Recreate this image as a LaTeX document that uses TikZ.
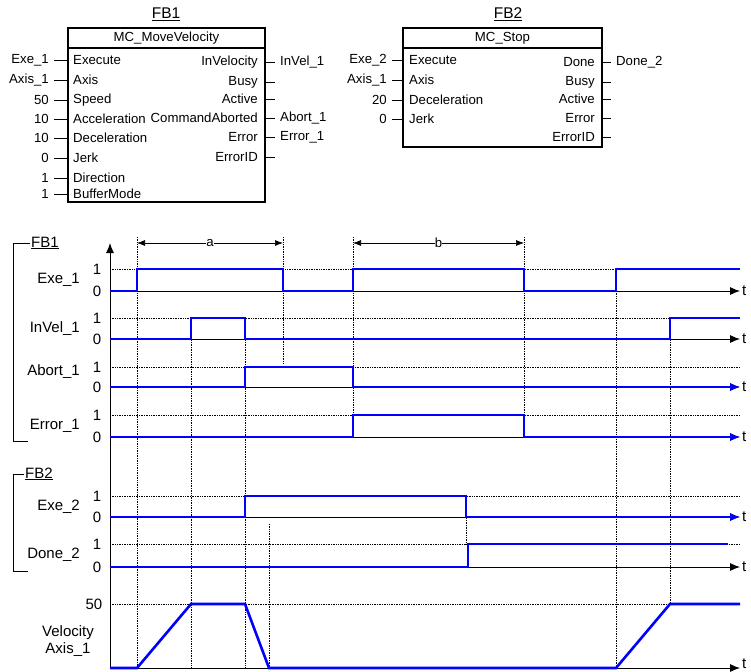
\documentclass[tikz,border=0pt]{standalone}
\usepackage{fontspec}
\setmainfont{Liberation Sans}
\usetikzlibrary{arrows.meta,positioning}

\begin{document}
\begin{tikzpicture}[
    x=1pt, y=-1pt,
    every node/.style={inner sep=1pt, font=\fontsize{13.2}{15}\selectfont},
    fbtitle/.style={font=\fontsize{15.5}{17}\selectfont},
    header/.style={draw, line width=1.2pt, minimum height=20pt, inner sep=0pt},
    block/.style={draw, line width=1.2pt},
    pinline/.style={line width=0.7pt},
    siglabel/.style={anchor=east, font=\fontsize{15}{17}\selectfont},
    lvl/.style={font=\fontsize{15}{17}\selectfont},
    sig/.style={blue, line width=2.6pt},
    sigend/.style={sig, -{Latex[length=10pt,width=8pt]}},
    gridline/.style={densely dotted, line width=0.7pt},
    axis/.style={line width=0.9pt, -{Latex[length=10pt,width=8pt]}},
    dim/.style={line width=0.7pt, {Latex[length=8pt,width=6pt]}-{Latex[length=8pt,width=6pt]}}
]
\useasboundingbox (0,0) rectangle (751,671);

% function block FB1
\node[fbtitle] (fb1) at (166,14) {\underline{FB1}};
\draw[block] (68,28) rectangle (265,202);
\node[header, minimum width=197pt] (mv) at (166.5,38) {MC\_MoveVelocity};
\foreach \y/\arg/\val [count=\i] in {60/Execute/Exe\_1, 80/Axis/Axis\_1, 100/Speed/50,
    119/Acceleration/10, 138/Deceleration/10, 158/Jerk/0, 178/Direction/1, 194/BufferMode/1}{
  \node[anchor=west] (mvin\i) at (72,\y) {\arg};
  \node[anchor=east] (mvval\i) at (50,\y) {\val};
  \coordinate (mvp\i) at (68,\y);
  \draw[pinline] ([xshift=4pt]mvval\i.east) -- (mvp\i);
}
\foreach \y/\arg/\val [count=\i] in {62/InVelocity/InVel\_1, 82/Busy/, 99/Active/,
    118/CommandAborted/Abort\_1, 137/Error/Error\_1, 157/ErrorID/}{
  \node[anchor=east] (mvout\i) at (259,\y) {\arg};
  \coordinate (mvq\i) at (265,\y);
  \coordinate (mvr\i) at (275,\y);
  \node[anchor=west] (mvres\i) at (279,\y) {\val};
  \draw[pinline] (mvq\i) -- (mvr\i);
}

% function block FB2
\node[fbtitle] (fb2) at (508,14) {\underline{FB2}};
\draw[block] (403,28) rectangle (602,147);
\node[header, minimum width=199pt] (st) at (502.5,38) {MC\_Stop};
\foreach \y/\arg/\val [count=\i] in {60/Execute/Exe\_2, 80/Axis/Axis\_1,
    100/Deceleration/20, 119/Jerk/0}{
  \node[anchor=west] (stin\i) at (408,\y) {\arg};
  \node[anchor=east] (stval\i) at (388,\y) {\val};
  \coordinate (stp\i) at (403,\y);
  \draw[pinline] ([xshift=4pt]stval\i.east) -- (stp\i);
}
\foreach \y/\arg/\val [count=\i] in {62/Done/Done\_2, 82/Busy/, 99/Active/,
    118/Error/, 137/ErrorID/}{
  \node[anchor=east] (stout\i) at (596,\y) {\arg};
  \coordinate (stq\i) at (602,\y);
  \coordinate (str\i) at (611,\y);
  \node[anchor=west] (stres\i) at (615,\y) {\val};
  \draw[pinline] (stq\i) -- (str\i);
}

% brackets
\node[lvl, anchor=west] (tfb1) at (30,243) {\underline{FB1}};
\draw[line width=0.7pt] (tfb1.west) -- (13,243) -- (13,441) -- (28,441);
\node[lvl, anchor=west] (tfb2) at (24,474) {\underline{FB2}};
\draw[line width=0.7pt] (tfb2.west) -- (13,474) -- (13,571) -- (28,571);

% grid
\foreach \y in {269,318,367,415,496,544,604}
  \draw[gridline] (110,\y) -- (740,\y);
\foreach \x/\ya/\yb in {137/237/668, 191/318/668, 245/318/668, 283/237/363, 353/237/437,
    524/237/437, 616/291/668, 670/318/604, 269/524/668, 466/496/544}
  \draw[gridline] (\x,\ya) -- (\x,\yb);

% time spans
\coordinate (a1) at (137,243);
\coordinate (a2) at (283,243);
\coordinate (b1) at (353,243);
\coordinate (b2) at (524,243);
\draw[dim] (a1) -- node[fill=white, inner sep=0pt] {a} (a2);
\draw[dim] (b1) -- node[fill=white, inner sep=0pt] {b} (b2);

% axes
\coordinate (o) at (110,668);
\draw[axis] (o) -- (110,243);
\foreach \y [count=\i] in {291,339,387,437,517,567,668}{
  \coordinate (t\i) at (740,\y);
  \draw[axis] (110,\y) -- (t\i);
}
\foreach \y [count=\i] in {291,339,387,437,517,567,664}
  \node[lvl, anchor=west] (tl\i) at (741,\y) {t};

% levels and names
\foreach \ya/\yb in {269/291, 318/339, 367/387, 415/437, 496/517, 544/567}{
  \node[lvl] at (97,\ya) {1};
  \node[lvl] at (97,\yb) {0};
}
\node[lvl] (v50) at (94,604) {50};
\node[siglabel] (nexe1) at (81,280) {Exe\_1};
\node[siglabel] (ninvel) at (81,329) {InVel\_1};
\node[siglabel] (nabort) at (81,372) {Abort\_1};
\node[siglabel] (nerror) at (81,426) {Error\_1};
\node[siglabel] (nexe2) at (81,507) {Exe\_2};
\node[siglabel] (ndone) at (81,555) {Done\_2};
\node[lvl, align=center] (nvel) at (68,641) {Velocity\\Axis\_1};

% signals
\draw[sig] (110,291) -| (137,269) -| (283,291) -| (353,269) -| (524,291) -| (616,269) -- (740,269);
\draw[sig] (110,339) -| (191,318) -| (245,339) -| (670,318) -- (740,318);
\draw[sigend] (110,387) -| (245,367) -| (353,387) -- (740,387);
\draw[sigend] (110,437) -| (353,415) -| (524,437) -- (740,437);
\draw[sigend] (110,517) -| (245,496) -| (466,517) -- (740,517);
\draw[sig] (110,567) -| (468,544) -- (728,544);
\draw[sig] (110,668) -- (137,668) -- (191,604) -- (245,604) -- (269,668) -- (616,668) -- (670,604) -- (740,604);

\end{tikzpicture}
\end{document}
